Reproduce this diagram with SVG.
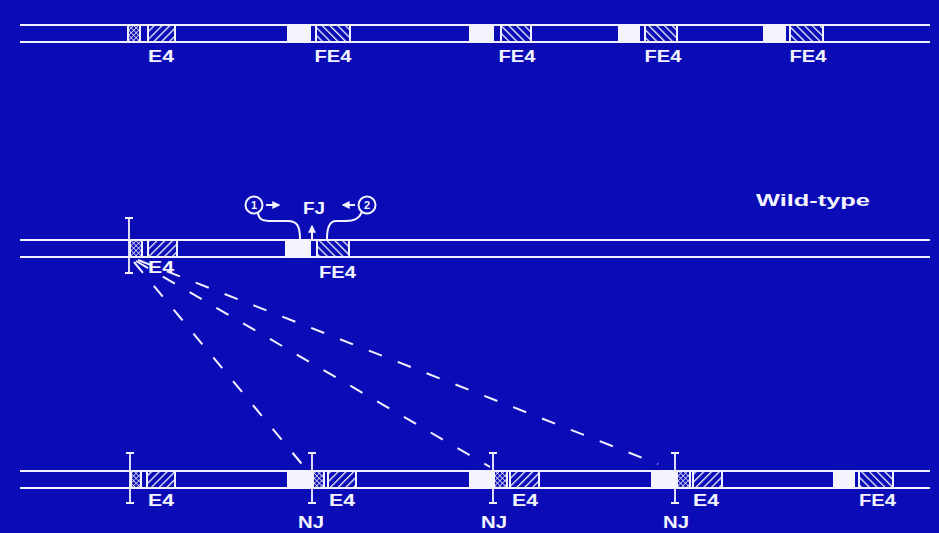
<svg xmlns="http://www.w3.org/2000/svg" width="939" height="533" viewBox="0 0 939 533">
<style>
.bg{fill:#0b0cb6}
.ln{stroke:#f2f2ff;stroke-width:2;fill:none}
.wb{fill:#f4f4ff}
.box{stroke:#f2f2ff;stroke-width:2}
.fwd{fill:url(#pf)}
.bck{fill:url(#pb)}
.chk{fill:url(#pc)}
.lbl{font-family:"Liberation Sans",Arial,sans-serif;font-weight:bold;font-size:16px;fill:#f4f4ff}
.num{font-family:"Liberation Sans",Arial,sans-serif;font-weight:bold;font-size:11px;fill:#f4f4ff;text-anchor:middle}
.dash{stroke:#f2f2ff;stroke-width:2;fill:none;stroke-dasharray:14 17}
.ibar{stroke:#f2f2ff;stroke-width:1.8;fill:none}
</style>
<defs>
<pattern id="pf" width="5.5" height="5.5" patternUnits="userSpaceOnUse" patternTransform="rotate(45)">
<rect width="5.5" height="5.5" fill="#0b0cb6"/><line x1="0" y1="0" x2="0" y2="5.5" stroke="#f2f2ff" stroke-width="2.6"/>
</pattern>
<pattern id="pb" width="5.5" height="5.5" patternUnits="userSpaceOnUse" patternTransform="rotate(-45)">
<rect width="5.5" height="5.5" fill="#0b0cb6"/><line x1="0" y1="0" x2="0" y2="5.5" stroke="#f2f2ff" stroke-width="2.6"/>
</pattern>
<pattern id="pc" width="3.5" height="3.5" patternUnits="userSpaceOnUse" patternTransform="rotate(45)">
<rect width="3.5" height="3.5" fill="#0b0cb6"/><line x1="0" y1="0" x2="0" y2="3.5" stroke="#f2f2ff" stroke-width="1.4"/><line x1="0" y1="0" x2="3.5" y2="0" stroke="#f2f2ff" stroke-width="1.4"/>
</pattern>
<marker id="ah" viewBox="0 0 6 6" refX="5" refY="3" markerWidth="4" markerHeight="4" orient="auto">
<path d="M0,0 L6,3 L0,6 Z" fill="#f2f2ff"/>
</marker>
</defs>
<rect class="bg" x="0" y="0" width="939" height="533"/>

<g id="strip-top">
<line class="ln" x1="20" y1="25" x2="930" y2="25"/>
<line class="ln" x1="20" y1="42" x2="930" y2="42"/>
<rect class="box chk" x="128" y="25" width="12" height="17"/>
<rect class="box fwd" x="148" y="25" width="27" height="17"/>
<rect class="wb" x="287" y="25" width="24" height="17"/>
<rect class="box bck" x="316" y="25" width="34" height="17"/>
<rect class="wb" x="469" y="25" width="25" height="17"/>
<rect class="box bck" x="501" y="25" width="30" height="17"/>
<rect class="wb" x="618" y="25" width="22" height="17"/>
<rect class="box bck" x="645" y="25" width="32" height="17"/>
<rect class="wb" x="763" y="25" width="23" height="17"/>
<rect class="box bck" x="790" y="25" width="33" height="17"/>
<text class="lbl" x="148" y="62" textLength="26" lengthAdjust="spacingAndGlyphs">E4</text>
<text class="lbl" x="314.5" y="62" textLength="37" lengthAdjust="spacingAndGlyphs">FE4</text>
<text class="lbl" x="498.5" y="62" textLength="37" lengthAdjust="spacingAndGlyphs">FE4</text>
<text class="lbl" x="644.5" y="62" textLength="37" lengthAdjust="spacingAndGlyphs">FE4</text>
<text class="lbl" x="789.5" y="62" textLength="37" lengthAdjust="spacingAndGlyphs">FE4</text>
</g>

<g id="strip-wildtype">
<line class="ln" x1="20" y1="240" x2="930" y2="240"/>
<line class="ln" x1="20" y1="257" x2="930" y2="257"/>
<rect class="box chk" x="130" y="240" width="12" height="17"/>
<rect class="box fwd" x="148" y="240" width="29" height="17"/>
<rect class="wb" x="285" y="240" width="26" height="17"/>
<rect class="box bck" x="317" y="240" width="32" height="17"/>
<path class="ibar" d="M125,218 H133 M129,218 V273 M125,273 H133"/>
<text class="lbl" x="148" y="273" textLength="26" lengthAdjust="spacingAndGlyphs">E4</text>
<text class="lbl" x="319" y="278" textLength="37" lengthAdjust="spacingAndGlyphs">FE4</text>
<text class="lbl" x="756" y="206" font-size="19" textLength="114" lengthAdjust="spacingAndGlyphs">Wild-type</text>
</g>

<g id="junction-fj">
<circle class="ln" cx="254" cy="205" r="8.5"/>
<text class="num" x="254" y="209">1</text>
<circle class="ln" cx="367" cy="205" r="8.5"/>
<text class="num" x="367" y="209">2</text>
<text class="lbl" x="303" y="214" textLength="22" lengthAdjust="spacingAndGlyphs">FJ</text>
</g>

<g id="strip-bottom">
<line class="ln" x1="20" y1="471" x2="930" y2="471"/>
<line class="ln" x1="20" y1="488" x2="930" y2="488"/>
<rect class="box chk" x="131" y="471" width="10" height="17"/>
<rect class="box fwd" x="147" y="471" width="28" height="17"/>
<rect class="wb" x="287" y="471" width="25" height="17"/>
<rect class="box chk" x="313" y="471" width="11" height="17"/>
<rect class="box fwd" x="328" y="471" width="28" height="17"/>
<rect class="wb" x="469" y="471" width="24" height="17"/>
<rect class="box chk" x="494" y="471" width="13" height="17"/>
<rect class="box fwd" x="510" y="471" width="29" height="17"/>
<rect class="wb" x="651" y="471" width="25" height="17"/>
<rect class="box chk" x="677" y="471" width="13" height="17"/>
<rect class="box fwd" x="693" y="471" width="29" height="17"/>
<rect class="wb" x="833" y="471" width="22" height="17"/>
<rect class="box bck" x="859" y="471" width="34" height="17"/>
<path class="ibar" d="M126,453 H134 M130,453 V503 M126,503 H134"/>
<path class="ibar" d="M308,453 H316 M312,453 V503 M308,503 H316"/>
<path class="ibar" d="M489,453 H497 M493,453 V503 M489,503 H497"/>
<path class="ibar" d="M671,453 H679 M675,453 V503 M671,503 H679"/>
<text class="lbl" x="148" y="506" textLength="26" lengthAdjust="spacingAndGlyphs">E4</text>
<text class="lbl" x="329" y="506" textLength="26" lengthAdjust="spacingAndGlyphs">E4</text>
<text class="lbl" x="512" y="506" textLength="26" lengthAdjust="spacingAndGlyphs">E4</text>
<text class="lbl" x="693" y="506" textLength="26" lengthAdjust="spacingAndGlyphs">E4</text>
<text class="lbl" x="859" y="506" textLength="37" lengthAdjust="spacingAndGlyphs">FE4</text>
<text class="lbl" x="298" y="528" textLength="26" lengthAdjust="spacingAndGlyphs">NJ</text>
<text class="lbl" x="481" y="528" textLength="26" lengthAdjust="spacingAndGlyphs">NJ</text>
<text class="lbl" x="663" y="528" textLength="26" lengthAdjust="spacingAndGlyphs">NJ</text>
</g>

<g id="connectors">
<line class="dash" x1="134" y1="262" x2="306" y2="469"/>
<line class="dash" x1="136" y1="261" x2="490" y2="467"/>
<line class="dash" x1="138" y1="260" x2="658" y2="464"/>
<path class="ln" d="M258,213 C259,220 263,221 272,221 L288,221 C297,221 300,226 300,239"/>
<path class="ln" d="M362,212 C359,219 354,221 346,221 L336,221 C329,221 327,228 327,239"/>
<line class="ln" x1="312" y1="239" x2="312" y2="226" marker-end="url(#ah)"/>
<line class="ln" x1="266" y1="205" x2="279" y2="205" marker-end="url(#ah)"/>
<line class="ln" x1="355" y1="205" x2="343" y2="205" marker-end="url(#ah)"/>
</g>
</svg>
